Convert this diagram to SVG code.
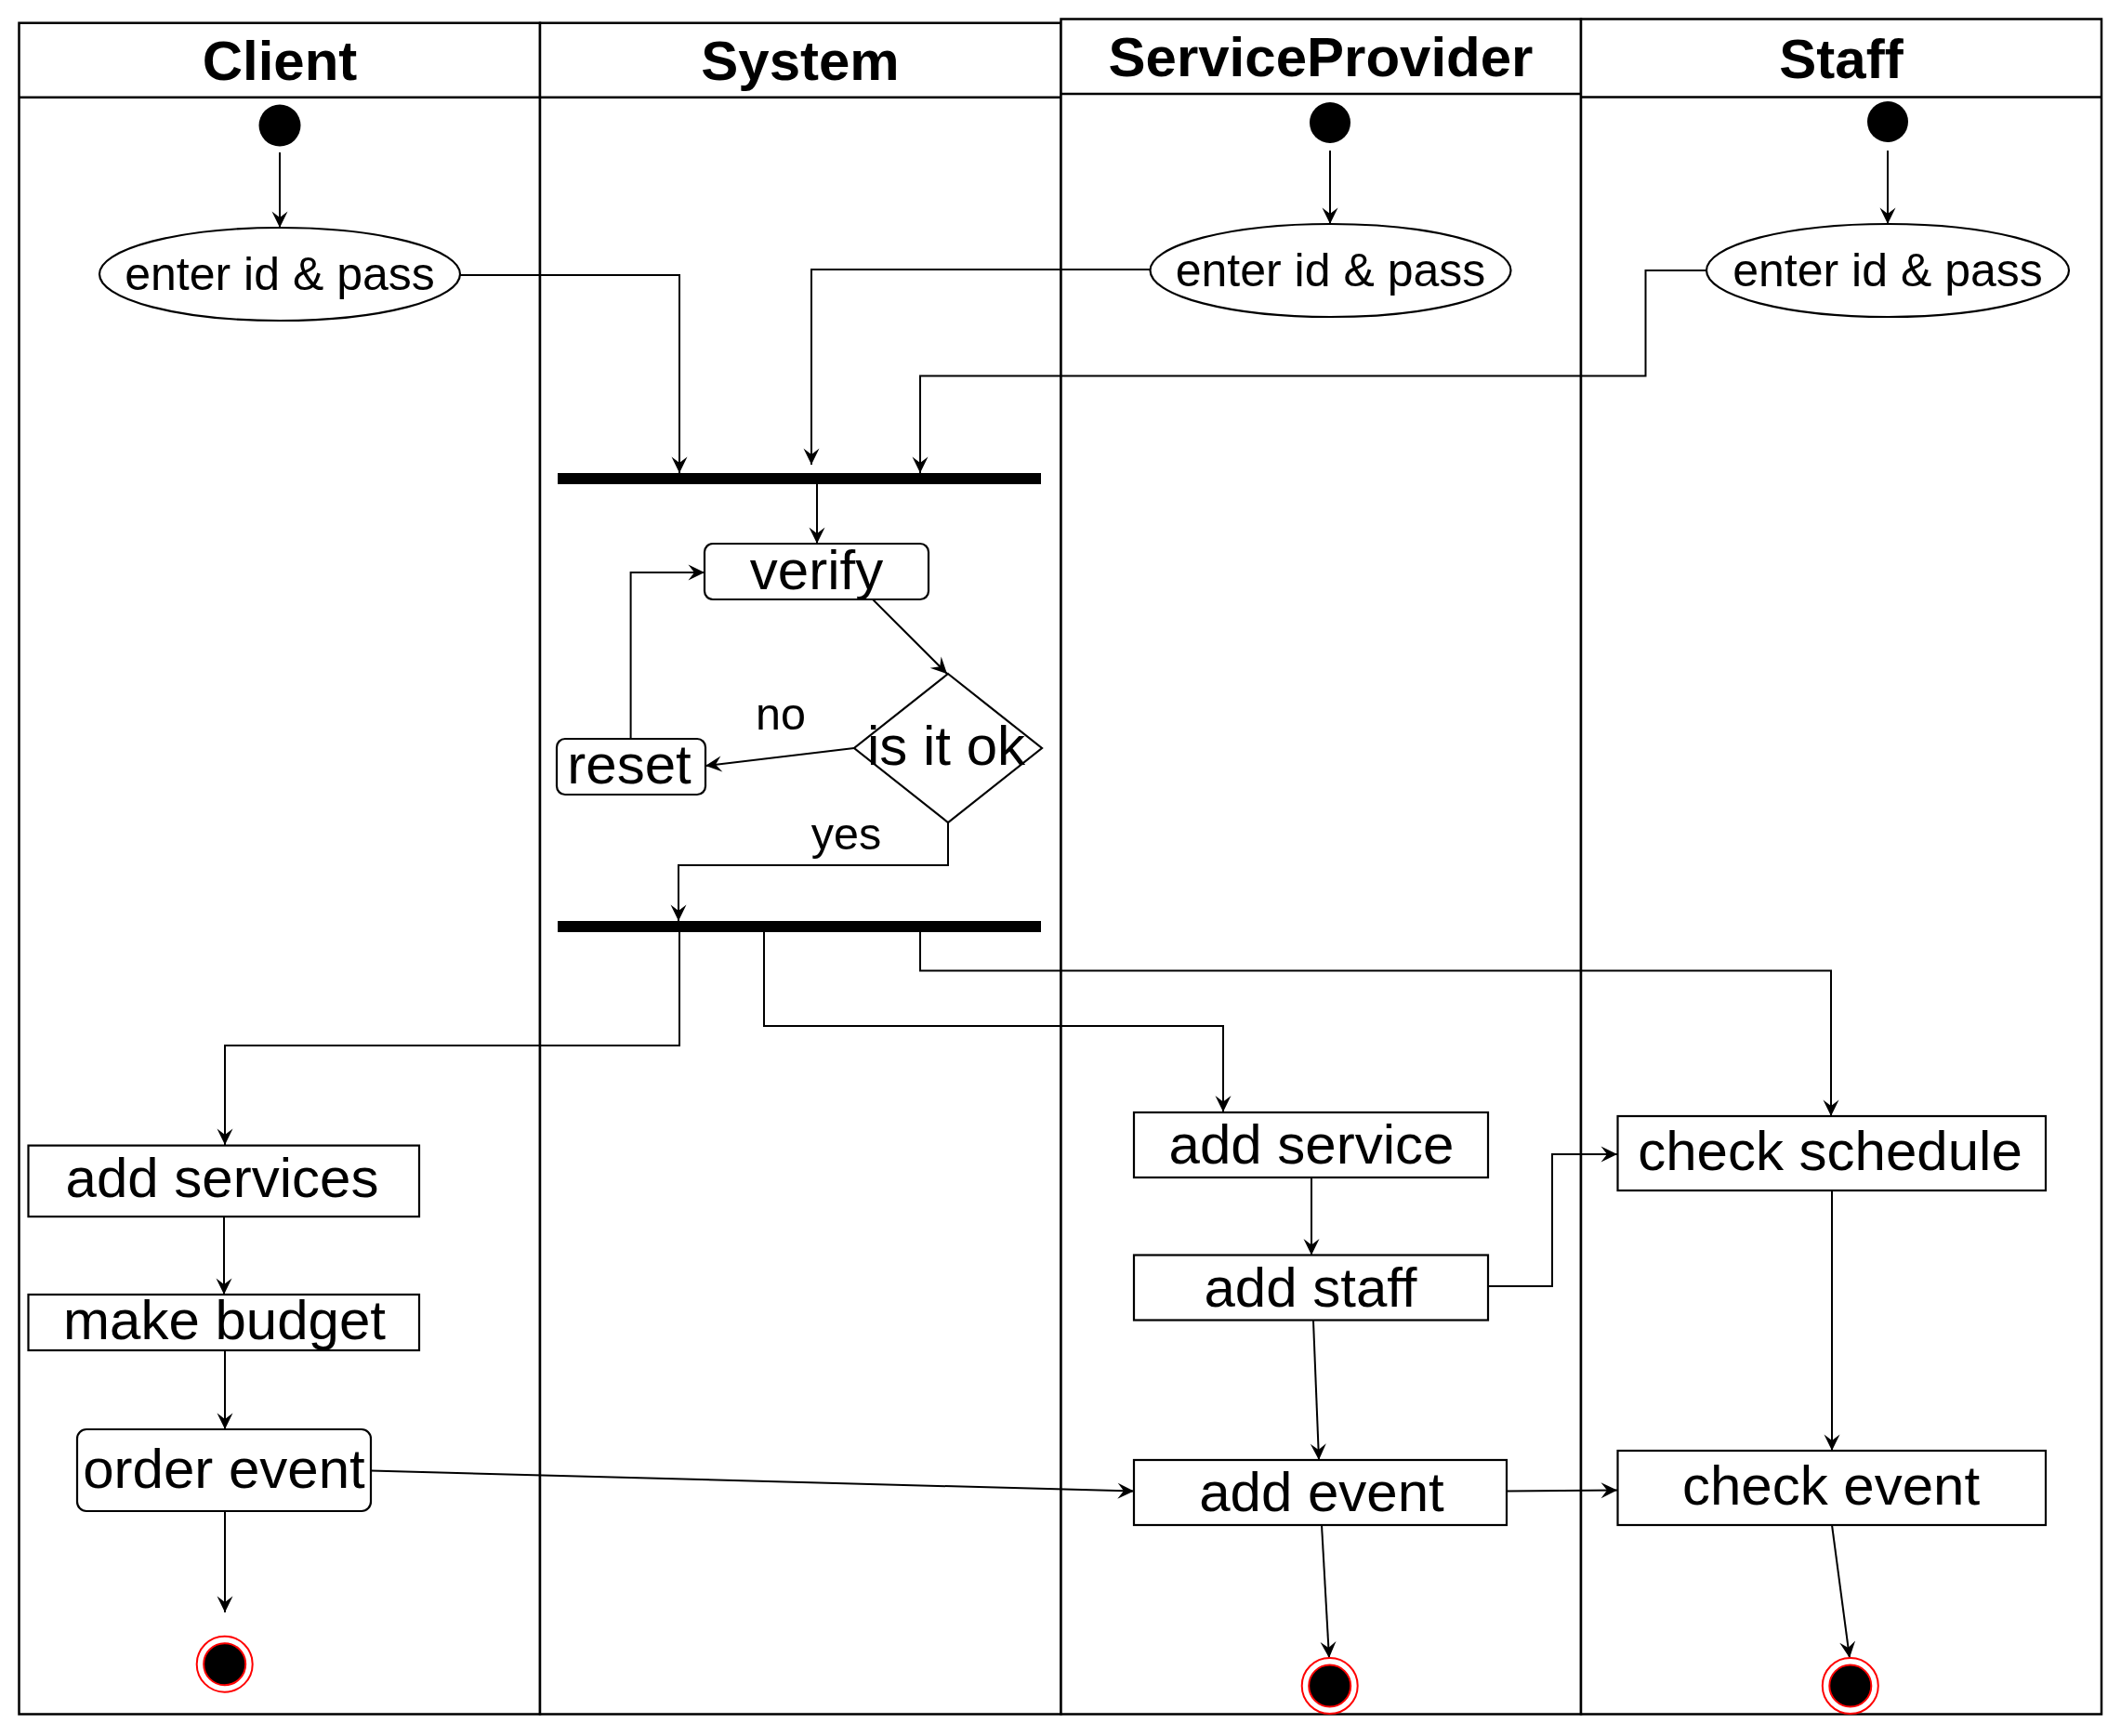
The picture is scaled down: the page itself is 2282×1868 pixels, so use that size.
<svg xmlns="http://www.w3.org/2000/svg" width="2282" height="1868" viewBox="0 0 2282 1868">
<style>
.lane{fill:#fff;stroke:#000;stroke-width:2.5}
.title{font-family:"Liberation Sans",Arial,sans-serif;font-weight:bold;font-size:60px;text-anchor:middle;fill:#000}
.lbl{font-family:"Liberation Sans",Arial,sans-serif;font-size:60px;text-anchor:middle;fill:#000}
.elbl{font-family:"Liberation Sans",Arial,sans-serif;font-size:50px;text-anchor:middle;fill:#000}
.edge{font-family:"Liberation Sans",Arial,sans-serif;font-size:48.5px;text-anchor:middle;fill:#000}
.box{fill:#fff;stroke:#000;stroke-width:2.2}
.start{fill:#000}
.bar{fill:#000}
.conn{fill:none;stroke:#000;stroke-width:2;marker-end:url(#arr)}
.fo{fill:#fff;stroke:#ff0000;stroke-width:2}
.fi{fill:#000;stroke:#ff0000;stroke-width:2}
</style>
<defs>
<marker id="arr" markerUnits="userSpaceOnUse" markerWidth="20" markerHeight="20" viewBox="-18 -10 20 20" refX="0" refY="0" orient="auto">
<path d="M0,0 L-17.5,-8.5 L-11,0 L-17.5,8.5 Z" fill="#000"/>
</marker>
</defs>
<rect width="2282" height="1868" fill="#fff"/>
<g id="lane-client">
<rect class="lane" x="20.5" y="24.7" width="560.5" height="1819.8"/>
<line x1="20.5" y1="104.8" x2="581" y2="104.8" stroke="#000" stroke-width="2.5"/>
<text class="title" x="301" y="86">Client</text>
</g>
<g id="lane-system">
<rect class="lane" x="581" y="24.7" width="560.5" height="1819.8"/>
<line x1="581" y1="104.8" x2="1141.5" y2="104.8" stroke="#000" stroke-width="2.5"/>
<text class="title" x="861" y="86">System</text>
</g>
<g id="lane-sp">
<rect class="lane" x="1141.5" y="20.5" width="559.5" height="1824"/>
<line x1="1141.5" y1="101" x2="1701" y2="101" stroke="#000" stroke-width="2.5"/>
<text class="title" x="1421" y="81.5">ServiceProvider</text>
</g>
<g id="lane-staff">
<rect class="lane" x="1701" y="20.5" width="560" height="1824"/>
<line x1="1701" y1="104.5" x2="2261" y2="104.5" stroke="#000" stroke-width="2.5"/>
<text class="title" x="1981" y="84">Staff</text>
</g>

<g id="connectors">
<path class="conn" d="M301,164 L301,245"/>
<path class="conn" d="M1431,162 L1431,241"/>
<path class="conn" d="M2031,162 L2031,241"/>
<path class="conn" d="M495,296 L731,296 L731,509"/>
<path class="conn" d="M1238,290 L873,290 L873,500"/>
<path class="conn" d="M1836,291 L1770.5,291 L1770.5,404.5 L990,404.5 L990,509"/>
<path class="conn" d="M879,521 L879,585"/>
<path class="conn" d="M939,645 L1019,725"/>
<path class="conn" d="M919,805 L759,824"/>
<path class="conn" d="M678.6,795 L678.6,616 L758,616"/>
<path class="conn" d="M1020,885 L1020,931 L730,931 L730,991"/>
<path class="conn" d="M731,1003 L731,1125 L242,1125 L242,1232"/>
<path class="conn" d="M822,1003 L822,1104 L1316,1104 L1316,1196.5"/>
<path class="conn" d="M990,1003 L990,1044.5 L1970,1044.5 L1970,1201"/>
<path class="conn" d="M241,1309 L241,1393"/>
<path class="conn" d="M242,1453 L242,1538"/>
<path class="conn" d="M242,1626 L242,1735"/>
<path class="conn" d="M399,1582.5 L1220,1604.6"/>
<path class="conn" d="M1411,1267 L1411,1350.5"/>
<path class="conn" d="M1601,1384 L1670,1384 L1670,1242 L1740,1242"/>
<path class="conn" d="M1413,1421 L1419,1571"/>
<path class="conn" d="M1621,1604.6 L1740,1603.5"/>
<path class="conn" d="M1422,1641 L1430,1784"/>
<path class="conn" d="M1971,1281 L1971,1561"/>
<path class="conn" d="M1971,1641 L1990,1784"/>
<text class="edge" x="840" y="785">no</text>
<text class="edge" x="910.5" y="914">yes</text>
</g>

<g id="client-start"><circle class="start" cx="301" cy="135" r="22.5"/></g>
<g id="sp-start"><circle class="start" cx="1431" cy="132" r="22"/></g>
<g id="staff-start"><circle class="start" cx="2031" cy="131" r="22"/></g>

<g id="client-login">
<ellipse class="box" cx="301" cy="295" rx="194" ry="50"/>
<text class="elbl" x="301" y="312">enter id &amp; pass</text>
</g>
<g id="sp-login">
<ellipse class="box" cx="1431.5" cy="291" rx="194" ry="50"/>
<text class="elbl" x="1431.5" y="308">enter id &amp; pass</text>
</g>
<g id="staff-login">
<ellipse class="box" cx="2031" cy="291" rx="195" ry="50"/>
<text class="elbl" x="2031" y="308">enter id &amp; pass</text>
</g>

<g id="fork1"><rect class="bar" x="600" y="509" width="520" height="12"/></g>
<g id="verify">
<rect class="box" x="758" y="585" width="241" height="60" rx="9"/>
<text class="lbl" x="878.5" y="634">verify</text>
</g>
<g id="decision">
<polygon class="box" points="1020,725 1121,805 1020,885 919,805"/>
<text class="lbl" x="1018" y="823">is it ok</text>
</g>
<g id="reset">
<rect class="box" x="599" y="795" width="160" height="60" rx="9"/>
<text class="lbl" x="677" y="842.5">reset</text>
</g>
<g id="fork2"><rect class="bar" x="600" y="991" width="520" height="12"/></g>

<g id="add-services">
<rect class="box" x="30.5" y="1232.6" width="420.5" height="76.5"/>
<text class="lbl" x="239" y="1288">add services</text>
</g>
<g id="make-budget">
<rect class="box" x="30.5" y="1393" width="420.5" height="60"/>
<text class="lbl" x="241.5" y="1441">make budget</text>
</g>
<g id="order-event">
<rect class="box" x="83" y="1538" width="316" height="88" rx="10"/>
<text class="lbl" x="241" y="1601">order event</text>
</g>
<g id="add-service">
<rect class="box" x="1220" y="1197" width="381" height="70"/>
<text class="lbl" x="1411" y="1252">add service</text>
</g>
<g id="add-staff">
<rect class="box" x="1220" y="1350.5" width="381" height="70"/>
<text class="lbl" x="1410" y="1406">add staff</text>
</g>
<g id="add-event">
<rect class="box" x="1220" y="1571" width="401" height="70"/>
<text class="lbl" x="1422" y="1626">add event</text>
</g>
<g id="check-schedule">
<rect class="box" x="1740.5" y="1201" width="460.5" height="80"/>
<text class="lbl" x="1969" y="1259">check schedule</text>
</g>
<g id="check-event">
<rect class="box" x="1740.5" y="1561" width="460.5" height="80"/>
<text class="lbl" x="1970" y="1619">check event</text>
</g>

<g id="client-end"><circle class="fo" cx="241.7" cy="1790.7" r="30"/><circle class="fi" cx="241.7" cy="1790.7" r="22.5"/></g>
<g id="sp-end"><circle class="fo" cx="1430.7" cy="1814" r="30"/><circle class="fi" cx="1430.7" cy="1814" r="22.5"/></g>
<g id="staff-end"><circle class="fo" cx="1990.8" cy="1814" r="30"/><circle class="fi" cx="1990.8" cy="1814" r="22.5"/></g>
</svg>
